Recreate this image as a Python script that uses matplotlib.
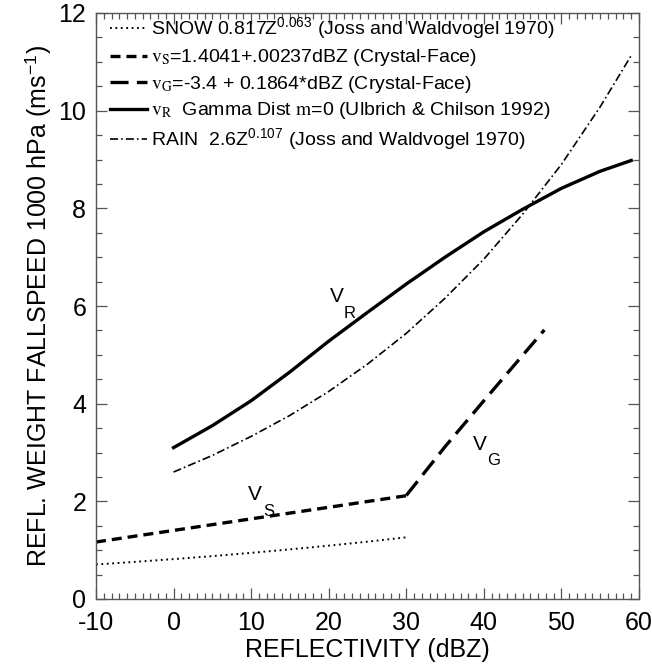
import matplotlib
matplotlib.use("Agg")
import matplotlib.pyplot as plt
from matplotlib.ticker import MultipleLocator

plt.rcParams['font.family'] = ['Liberation Sans', 'DejaVu Sans']
plt.rcParams['mathtext.fontset'] = 'stix'
plt.rcParams['lines.scale_dashes'] = False
plt.rcParams['axes.unicode_minus'] = False

# ---- data ----
snow_dbz = [-10, -5, 0, 5, 10, 15, 20, 25, 30]
snow_v = [0.707, 0.760, 0.817, 0.878, 0.945, 1.016, 1.092, 1.174, 1.263]

vs_dbz = [-10, -5, 0, 5, 10, 15, 20, 25, 30]
vs_v = [1.167, 1.286, 1.404, 1.523, 1.641, 1.760, 1.878, 1.997, 2.115]

vg_dbz = [30, 35, 40, 45, 47.8]
vg_v = [2.12, 3.12, 4.06, 4.99, 5.51]

vr_dbz = [0, 5, 10, 15, 20, 25, 30, 35, 40, 45, 50, 55, 59]
vr_v = [3.10, 3.55, 4.06, 4.65, 5.28, 5.87, 6.45, 7.00, 7.52, 7.98, 8.41, 8.76, 8.98]

rain_dbz = [0, 5, 10, 15, 20, 25, 30, 35, 40, 45, 50, 55, 59]
rain_v = [2.60, 2.94, 3.33, 3.76, 4.25, 4.81, 5.44, 6.16, 6.96, 7.88, 8.90, 10.08, 11.13]

labels = [
    r"SNOW 0.817Z$^{\mathregular{0.063}}$ (Joss and Waldvogel 1970)",
    r"$\mathrm{v_S}$=1.4041+.00237dBZ (Crystal-Face)",
    r"$\mathrm{v_G}$=-3.4 + 0.1864*dBZ (Crystal-Face)",
    r"$\mathrm{v_R}$  Gamma Dist $\mathrm{m}$=0 (Ulbrich & Chilson 1992)",
    r"RAIN  2.6Z$^{\mathregular{0.107}}$ (Joss and Waldvogel 1970)",
]

xticks = [-10, 0, 10, 20, 30, 40, 50, 60]
yticks = [0, 2, 4, 6, 8, 10, 12]

fig = plt.figure(figsize=(6.52, 6.66), dpi=100)
ax = fig.add_axes([96/652, 1 - 599/666, 543/652, 586/666])

ax.plot(snow_dbz, snow_v, color='black', lw=1.4, dashes=(1.3, 2.6), label=labels[0])
ax.plot(vs_dbz, vs_v, color='black', lw=2.4, dashes=(7.2, 4.3), label=labels[1])
ax.plot(vg_dbz, vg_v, color='black', lw=2.4, dashes=(13, 6), label=labels[2])
ax.plot(vr_dbz, vr_v, color='black', lw=2.4, label=labels[3])
ax.plot(rain_dbz, rain_v, color='black', lw=1.2, dashes=(5.8, 2.2, 1.2, 2.2), label=labels[4])

# curve labels
ax.text(21.0, 6.19, "V", fontsize=15, ha='center', va='center')
ax.text(22.7, 5.84, "R", fontsize=12, ha='center', va='center')
ax.text(10.5, 2.14, "V", fontsize=15, ha='center', va='center')
ax.text(12.3, 1.80, "S", fontsize=12, ha='center', va='center')
ax.text(39.5, 3.16, "V", fontsize=15, ha='center', va='center')
ax.text(41.3, 2.83, "G", fontsize=12, ha='center', va='center')

ax.set_xlim(-10, 60)
ax.set_ylim(0, 12)
ax.set_xticks(xticks)
ax.set_yticks(yticks)
ax.xaxis.set_minor_locator(MultipleLocator(1))
ax.yaxis.set_minor_locator(MultipleLocator(0.5))
spine_col = '#555555'
for s in ax.spines.values():
    s.set_color(spine_col)
    s.set_linewidth(1.0)
ax.tick_params(which='both', direction='in', top=True, right=True, color=spine_col, width=0.9,
               labelsize=18)
ax.tick_params(which='major', length=8)
ax.tick_params(which='minor', length=4.5)
ax.tick_params(axis='x', which='major', pad=9)
ax.tick_params(axis='y', which='major', pad=7)

ax.set_xlabel("REFLECTIVITY (dBZ)", fontsize=18, labelpad=2)
ax.set_ylabel(r"REFL. WEIGHT FALLSPEED 1000 hPa (ms$^{\mathregular{-1}}$)", fontsize=18, labelpad=3)

leg = ax.legend(loc='upper left', bbox_to_anchor=(0.02, 1.0), frameon=False, fontsize=14,
                handlelength=1.9, handletextpad=0.2, labelspacing=0.28, borderpad=0.15,
                borderaxespad=0.0)

fig.savefig("out.png", dpi=100)
